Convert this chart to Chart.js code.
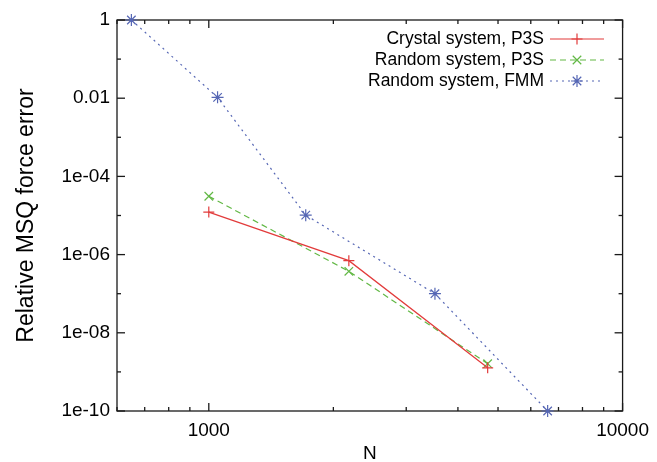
<!DOCTYPE html>
<html><head><meta charset="utf-8">
<script src="https://cdn.jsdelivr.net/npm/chart.js@4.4.0/dist/chart.umd.min.js"></script>
<style>html,body{margin:0;padding:0;background:#fff}canvas{display:block}</style>
</head><body>
<canvas id="c" width="657" height="462"></canvas>
<script>
const seriesLabels = ['Crystal system, P3S', 'Random system, P3S', 'Random system, FMM'];
const crystalN = [1000, 2180, 4720];
const crystalErr = [1.22e-5, 7.0e-7, 1.27e-9];
const randomN = [1000, 2180, 4720];
const randomErr = [3.1e-5, 3.74e-7, 1.62e-9];
const fmmN = [650, 1050, 1715, 3520, 6590];
const fmmErr = [1, 1.05e-2, 1.02e-5, 1.0e-7, 1e-10];
const xMajorTicks = [1000, 10000];
const xTickLabels = ['1000', '10000'];
const xMinorTicks = [600, 700, 800, 900, 2000, 3000, 4000, 5000, 6000, 7000, 8000, 9000];
const yMajorTicks = [1, 1e-2, 1e-4, 1e-6, 1e-8, 1e-10];
const yTickLabels = ['1', '0.01', '1e-04', '1e-06', '1e-08', '1e-10'];
const yMinorTicks = [1e-1, 1e-3, 1e-5, 1e-7, 1e-9];

const FONT = '"Liberation Sans", Arial, Helvetica, sans-serif';
const colors = ['#e23b3b', '#62b845', '#5566b4'];

function pts(xs, ys) { return xs.map((x, i) => ({x: x, y: ys[i]})); }

const framePlugin = {
  id: 'frame',
  beforeDatasetsDraw(chart) {
    const {ctx, chartArea: a, scales} = chart;
    const xs = scales.x, ys = scales.y;
    ctx.save();
    ctx.strokeStyle = '#1a1a1a';
    ctx.lineWidth = 1.3;
    ctx.strokeRect(a.left, a.top, a.right - a.left, a.bottom - a.top);
    const tick = (x1, y1, x2, y2) => { ctx.beginPath(); ctx.moveTo(x1, y1); ctx.lineTo(x2, y2); ctx.stroke(); };
    const MAJ = 8, MIN = 4;
    xMajorTicks.forEach(v => { const p = xs.getPixelForValue(v); tick(p, a.bottom, p, a.bottom - MAJ); tick(p, a.top, p, a.top + MAJ); });
    xMinorTicks.forEach(v => { const p = xs.getPixelForValue(v); tick(p, a.bottom, p, a.bottom - MIN); tick(p, a.top, p, a.top + MIN); });
    yMajorTicks.forEach(v => { const p = ys.getPixelForValue(v); tick(a.left, p, a.left + MAJ, p); tick(a.right, p, a.right - MAJ, p); });
    yMinorTicks.forEach(v => { const p = ys.getPixelForValue(v); tick(a.left, p, a.left + MIN, p); tick(a.right, p, a.right - MIN, p); });
    ctx.restore();
  }
};

const legendPlugin = {
  id: 'gpLegend',
  afterDraw(chart) {
    const {ctx} = chart;
    const textRight = 544, lineL = 550, lineR = 604, y0 = 39, rowH = 21;
    ctx.save();
    ctx.font = '17.5px ' + FONT;
    ctx.textAlign = 'right';
    ctx.textBaseline = 'middle';
    chart.data.datasets.forEach((ds, i) => {
      const y = y0 + i * rowH;
      ctx.fillStyle = '#000';
      ctx.fillText(ds.label, textRight, y);
      ctx.strokeStyle = ds.borderColor;
      ctx.lineWidth = ds.borderWidth;
      ctx.setLineDash(ds.borderDash || []);
      ctx.beginPath(); ctx.moveTo(lineL, y); ctx.lineTo(lineR, y); ctx.stroke();
      ctx.setLineDash([]);
      ctx.fillStyle = ds.borderColor;
      ctx.lineWidth = ds.pointBorderWidth;
      Chart.helpers.drawPoint(ctx, {pointStyle: ds.pointStyle, radius: ds.pointRadius, rotation: 0, borderWidth: ds.pointBorderWidth}, (lineL + lineR) / 2, y);
    });
    ctx.restore();
  }
};

new Chart(document.getElementById('c'), {
  type: 'scatter',
  data: {
    datasets: [
      {label: seriesLabels[0], data: pts(crystalN, crystalErr), showLine: true, borderColor: colors[0], backgroundColor: colors[0],
       borderWidth: 1.2, pointStyle: 'cross', pointRadius: 5.5, pointBorderWidth: 1.2, clip: false},
      {label: seriesLabels[1], data: pts(randomN, randomErr), showLine: true, borderColor: colors[1], backgroundColor: colors[1],
       borderWidth: 1.2, borderDash: [6, 4], pointStyle: 'crossRot', pointRadius: 6, pointBorderWidth: 1.2, clip: false},
      {label: seriesLabels[2], data: pts(fmmN, fmmErr), showLine: true, borderColor: colors[2], backgroundColor: colors[2],
       borderWidth: 1.2, borderDash: [2, 4], pointStyle: 'star', pointRadius: 6, pointBorderWidth: 1.2, clip: false}
    ]
  },
  options: {
    responsive: false,
    devicePixelRatio: 1,
    animation: false,
    events: [],
    layout: {padding: {top: 20, right: 33, left: 0, bottom: 0}},
    plugins: {legend: {display: false}, tooltip: {enabled: false}},
    scales: {
      x: {
        type: 'logarithmic', position: 'bottom', min: 600, max: 10000,
        afterBuildTicks: s => { s.ticks = xMajorTicks.map(v => ({value: v})); },
        afterFit: s => { s.height = 51; },
        grid: {display: false, drawTicks: false},
        border: {display: false},
        ticks: {autoSkip: false, maxRotation: 0, padding: 8, color: '#000', font: {family: FONT, size: 19},
                callback: v => xTickLabels[xMajorTicks.indexOf(v)]},
        title: {display: true, text: 'N', color: '#000', font: {family: FONT, size: 19}, padding: {top: 0, bottom: -3}}
      },
      y: {
        type: 'logarithmic', position: 'left', min: 1e-10, max: 1,
        afterBuildTicks: s => { s.ticks = yMajorTicks.map(v => ({value: v})); },
        afterFit: s => { s.width = 117; },
        grid: {display: false, drawTicks: false},
        border: {display: false},
        ticks: {autoSkip: false, padding: 7, color: '#000', font: {family: FONT, size: 19},
                callback: v => yTickLabels[yMajorTicks.indexOf(v)]},
        title: {display: true, text: 'Relative MSQ force error', color: '#000', font: {family: FONT, size: 23}, padding: {top: 13, bottom: 0}}
      }
    }
  },
  plugins: [framePlugin, legendPlugin]
});
</script>
</body></html>
